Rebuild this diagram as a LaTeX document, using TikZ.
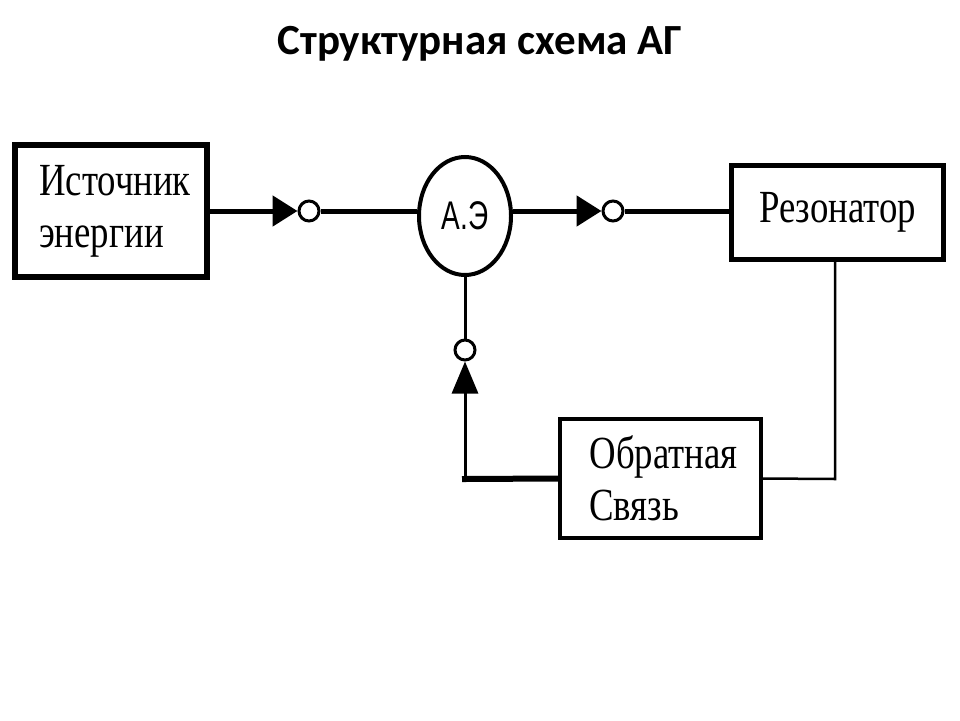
\documentclass[tikz,border=0pt]{standalone}
\usepackage{fontspec}
\setmainfont{Liberation Serif}[FakeStretch=0.8]
\newfontfamily\titlefont{Carlito}
\newfontfamily\aefont{Liberation Sans}[FakeStretch=0.7]
\usetikzlibrary{arrows.meta,shapes.geometric}
\begin{document}
\begin{tikzpicture}[x=1pt,y=-1pt,
  box/.style={draw, line width=5pt, inner sep=0pt, align=left, font=\fontsize{46}{52}\selectfont},
  port/.style={circle, draw, fill=white, line width=3pt, minimum size=20pt, inner sep=0pt},
  main/.style={line width=5pt},
  thinline/.style={line width=3pt},
  tip/.style={-{Triangle[length=25pt,width=30pt]}},
  vtip/.style={-{Triangle[length=32pt,width=26pt]}},
]
\useasboundingbox[fill=white] (0,0) rectangle (960,720);
\node[inner sep=0pt] (title) at (480,44) {\titlefont\fontsize{43}{50}\selectfont\bfseries Структурная схема АГ};
\node[box, line width=6pt, minimum width=192pt, minimum height=132pt] (src) at (111,211) {\kern8pt Источник\\\kern8pt энергии};
\node[ellipse, draw, line width=4pt, minimum width=92pt, minimum height=118pt, inner sep=0pt, font=\aefont\fontsize{40}{44}\selectfont] (ae) at (465,216) {А.Э};
\node[box, minimum width=212pt, minimum height=94pt] (res) at (837.5,212) {Резонатор};
\node[box, line width=4pt, minimum width=201pt, minimum height=119pt] (fb) at (660.5,478.5) {\kern6pt Обратная\\\kern6pt Связь};
\node[port] (p1) at (309,211) {};
\node[port] (p2) at (613,211) {};
\node[port] (p3) at (465,350) {};
\coordinate (corner) at (465,479);
\coordinate (rcorner) at (835,479);
\draw[main, tip] (src.east |- p1) -- (p1.west);
\draw[main] (p1.east) -- (ae.west |- p1);
\draw[main, tip] (ae.east |- p2) -- (p2.west);
\draw[main] (p2.east) -- (res.west |- p2);
\draw[thinline] (p3.north) -- (ae.south);
\draw[main, line width=6pt, line cap=rect] (fb.west) -- (corner);
\draw[thinline, vtip] (corner) -- (p3.south);
\draw[line width=2.5pt] (fb.east) -- (rcorner) -- (res.south -| rcorner);
\end{tikzpicture}
\end{document}
